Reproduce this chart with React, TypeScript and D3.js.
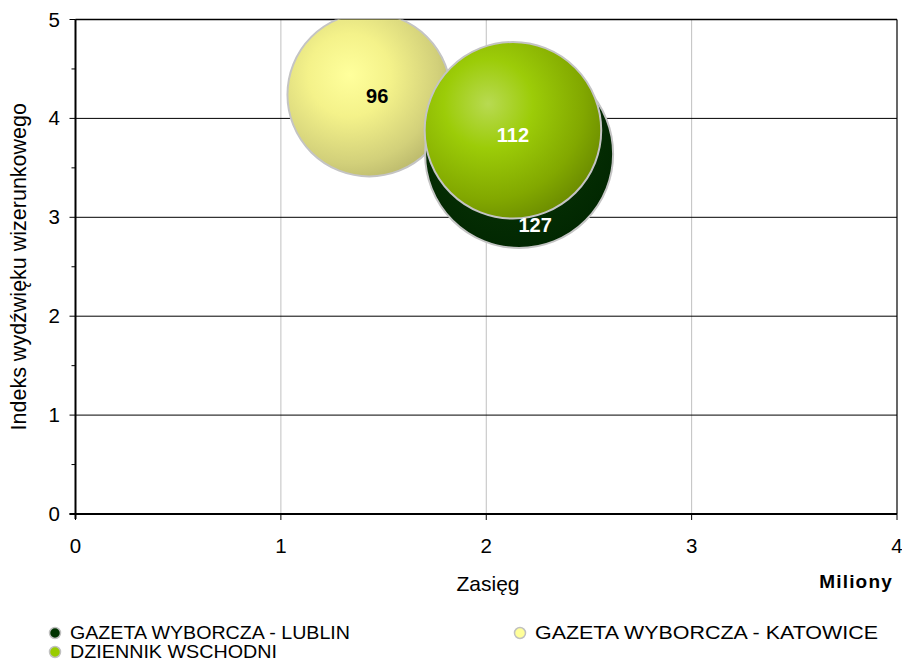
import React from "react";
import * as d3 from "d3";

const seriesNames = ["GAZETA WYBORCZA - LUBLIN", "DZIENNIK WSCHODNI", "GAZETA WYBORCZA - KATOWICE"];
const reachValues = [2.16, 2.13, 1.43];
const indexValues = [3.64, 3.88, 4.24];
const bubbleSizes = [127, 112, 96];
const xTicks = [0, 1, 2, 3, 4];
const yTicks = [0, 1, 2, 3, 4, 5];
const yMinorTicks = [0.5, 1.5, 2.5, 3.5, 4.5];

const W = 902;
const H = 663;
const left = 75.5;
const right = 897;
const top = 19.5;
const bottom = 514;

const FONT = "Arial, 'Liberation Sans', Helvetica, sans-serif";

const gradients = [
  { id: "gLublin", cx: 0.45, cy: 0.4, stops: [["0%", "#0b3a08"], ["100%", "#002400"]] },
  { id: "gWschodni", cx: 0.36, cy: 0.35, stops: [["0%", "#b8da52"], ["35%", "#9ccc08"], ["75%", "#82a800"], ["100%", "#6a8a00"]] },
  { id: "gKatowice", cx: 0.38, cy: 0.38, stops: [["0%", "#ffff9c"], ["35%", "#f4f28a"], ["75%", "#d2d07a"], ["100%", "#b4b268"]] },
];
const labelFill = ["#ffffff", "#ffffff", "#000000"];
const labelOffset = [[16, 78], [0, 12], [8, 8]];
const legendFill = ["#003300", "#99cc00", "#ffff99"];
const legendWidth = [280, 207, 343];

export default function App() {
  const x = d3.scaleLinear().domain([0, 4]).range([left, right]);
  const y = d3.scaleLinear().domain([0, 5]).range([bottom, top]);
  const r = d3.scaleSqrt().domain([0, 127]).range([0, 94]);

  const drawOrder = [2, 0, 1];

  return (
    <svg
      width={W}
      height={H}
      style={{ display: "block", position: "absolute", left: 0, top: 0, fontFamily: FONT }}
    >
      <defs>
        {gradients.map((g) => (
          <radialGradient key={g.id} id={g.id} cx={g.cx} cy={g.cy} r="0.72">
            {g.stops.map((s, i) => (
              <stop key={i} offset={s[0]} stopColor={s[1]} />
            ))}
          </radialGradient>
        ))}
        <clipPath id="plotClip">
          <rect x={left} y={top} width={right - left} height={bottom - top} />
        </clipPath>
      </defs>
      <rect x={0} y={0} width={W} height={H} fill="#fff" />
      {xTicks.slice(1, -1).map((t) => (
        <line key={"vx" + t} x1={x(t)} x2={x(t)} y1={top} y2={bottom} stroke="#c0c0c0" strokeWidth={1} />
      ))}
      {yTicks.slice(1).map((t) => (
        <line key={"hy" + t} x1={left} x2={right} y1={y(t)} y2={y(t)} stroke="#000" strokeWidth={1} />
      ))}
      <line x1={right} x2={right} y1={top} y2={bottom} stroke="#000" strokeWidth={1.2} />
      <line x1={left} x2={right} y1={top} y2={top} stroke="#000" strokeWidth={1.5} />

      <g clipPath="url(#plotClip)">
        {drawOrder.map((i) => (
          <circle
            key={"b" + i}
            cx={x(reachValues[i])}
            cy={y(indexValues[i])}
            r={r(bubbleSizes[i])}
            fill={`url(#${gradients[i].id})`}
            stroke="#c4c4c4"
            strokeWidth={2}
          />
        ))}
      </g>
      {drawOrder.map((i) => (
        <text
          key={"l" + i}
          x={x(reachValues[i]) + labelOffset[i][0]}
          y={y(indexValues[i]) + labelOffset[i][1]}
          textAnchor="middle"
          fontWeight="bold"
          fontSize={20}
          fill={labelFill[i]}
        >
          {bubbleSizes[i]}
        </text>
      ))}

      <line x1={left} x2={left} y1={top} y2={bottom + 5} stroke="#000" strokeWidth={2} />
      <line x1={left - 6} x2={right} y1={bottom} y2={bottom} stroke="#000" strokeWidth={2} />
      {yTicks.map((t) => (
        <g key={"yt" + t}>
          <line x1={left - 6} x2={left} y1={y(t)} y2={y(t)} stroke="#000" strokeWidth={1} />
          <text x={60} y={y(t) + 7} textAnchor="end" fontSize={20.5} fill="#000">
            {t}
          </text>
        </g>
      ))}
      {yMinorTicks.map((t) => (
        <line key={"ym" + t} x1={left - 4} x2={left} y1={y(t)} y2={y(t)} stroke="#000" strokeWidth={1} />
      ))}
      {xTicks.map((t) => (
        <g key={"xt" + t}>
          <line x1={x(t)} x2={x(t)} y1={bottom} y2={bottom + 6} stroke="#000" strokeWidth={1} />
          <text x={x(t)} y={553} textAnchor="middle" fontSize={20.5} fill="#000">
            {t}
          </text>
        </g>
      ))}
      <text x={488} y={591} textAnchor="middle" fontSize={21} fill="#000">
        Zasięg
      </text>
      <text x={893} y={588} textAnchor="end" fontSize={19} fontWeight="bold" letterSpacing={1.2} fill="#000">
        Miliony
      </text>
      <text
        transform={`translate(26, ${(top + bottom) / 2}) rotate(-90)`}
        textAnchor="middle"
        fontSize={21.5}
        fill="#000"
      >
        Indeks wydźwięku wizerunkowego
      </text>

      {[
        { i: 0, lx: 55, ly: 633 },
        { i: 1, lx: 55, ly: 652 },
        { i: 2, lx: 520, ly: 633 },
      ].map(({ i, lx, ly }) => (
        <g key={"lg" + i}>
          <circle cx={lx} cy={ly} r={5.5} fill={legendFill[i]} stroke="#c0c0c0" strokeWidth={1.5} />
          <text
            x={lx + 15}
            y={ly + 6}
            fontSize={17.5}
            fill="#000"
            textLength={legendWidth[i]}
            lengthAdjust="spacingAndGlyphs"
          >
            {seriesNames[i]}
          </text>
        </g>
      ))}
    </svg>
  );
}
